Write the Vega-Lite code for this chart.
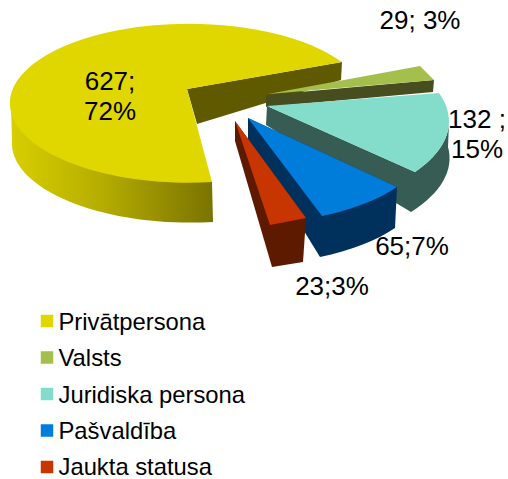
{"$schema":"https://vega.github.io/schema/vega-lite/v6.json","width":508,"height":479,"padding":0,"autosize":{"type":"none"},"background":"white","view":{"stroke":null},"config":{"font":"Liberation Sans"},
"data":{"values":[
{"name":"Privātpersona","value":627,"label":"627;\n72%"},
{"name":"Valsts","value":29,"label":"29; 3%"},
{"name":"Juridiska persona","value":132,"label":"132 ;\n15%"},
{"name":"Pašvaldība","value":65,"label":"65;7%"},
{"name":"Jaukta statusa","value":23,"label":"23;3%"}]},
"layer":[
{"transform":[{"filter":"datum.value == 627"}],
"mark":{"type":"point","filled":true,"size":4,"opacity":1,"strokeWidth":0,"shape":"M-243 -134.5 L-42 -57.5 L-41 -17.5 A179 79.5 0 0 1 -242 -99.5 Z","fill":{"x1":0,"y1":0,"x2":1,"y2":0,"gradient":"linear","stops":[{"offset":0,"color":"#d8cf00"},{"offset":0.45,"color":"#b5ad00"},{"offset":1,"color":"#7a7300"}]}}},
{"mark":{"type":"point","filled":true,"size":4,"opacity":1,"strokeWidth":0},
"encoding":{
"color":{"field":"name","type":"nominal","legend":null,"scale":{"domain":["Privātpersona","Valsts","Juridiska persona","Pašvaldība","Jaukta statusa"],"range":["#5f5a00","#474d1f","#365c54","#00305c","#5e1a00"]}},
"shape":{"field":"name","type":"nominal","legend":null,"scale":{"domain":["Privātpersona","Valsts","Juridiska persona","Pašvaldība","Jaukta statusa"],"range":[
"M-67 -150.5 L88 -177.5 L87 -159.5 L-57 -115.5 Z",
"M12 -144.5 L180 -159.5 L179 -147.5 L12 -132.5 Z",
"M13 -133.5 L161 -67.5 A210 93 0 0 0 195 -117.5 L194 -92.5 A210 93 0 0 1 157 -27.5 L12 -114.5 Z",
"M-6 -121.5 L143 -52.5 L141 -11.5 A180 80 0 0 1 66 17.5 L-6 -99.5 Z",
"M-19 -118.5 L52 -21.5 L49 22.5 L18 27.5 L-19 -98.5 Z"]}}}},
{"mark":{"type":"point","filled":true,"size":4,"opacity":1,"strokeWidth":0},
"encoding":{
"fill":{"field":"name","type":"nominal","legend":null,"scale":{"domain":["Privātpersona","Valsts","Juridiska persona","Pašvaldība","Jaukta statusa"],"range":["#e0d700","#a4bf4b","#84ddcb","#007ddb","#c73500"]}},
"shape":{"field":"name","type":"nominal","legend":null,"scale":{"domain":["Privātpersona","Valsts","Juridiska persona","Pašvaldība","Jaukta statusa"],"range":[
"M88 -177.5 A179 79.5 0 1 0 -42 -57.5 L-67 -150.5 Z",
"M14 -145.5 L166 -173.5 L180 -159.5 Z",
"M13 -133.5 L185 -146.5 A210 93 0 0 1 161 -67.5 Z",
"M-6 -121.5 L143 -52.5 A180 80 0 0 1 68 -23.5 Z",
"M-19 -118.5 L52 -21.5 L16 -14.5 Z"]}}}},
{"mark":{"type":"square","size":156,"opacity":1,"strokeWidth":0},
"encoding":{
"x":{"datum":0,"type":"quantitative","axis":null,"scale":{"domain":[0,508],"range":[47,555]}},
"y":{"field":"name","type":"nominal","axis":null,"sort":null,"scale":{"domain":["Privātpersona","Valsts","Juridiska persona","Pašvaldība","Jaukta statusa"],"type":"point","range":[321,467],"padding":0}},
"fill":{"field":"name","type":"nominal","legend":null}}},
{"mark":{"type":"text","font":"Liberation Sans","fontSize":23.8,"align":"left","baseline":"middle","color":"#000000"},
"encoding":{
"x":{"datum":0,"type":"quantitative","axis":null,"scale":{"domain":[0,508],"range":[58.5,566.5]}},
"y":{"field":"name","type":"nominal","axis":null,"sort":null,"scale":{"domain":["Privātpersona","Valsts","Juridiska persona","Pašvaldība","Jaukta statusa"],"type":"point","range":[323,468],"padding":0}},
"text":{"field":"name","type":"nominal"}}},
{"mark":{"type":"text","font":"Liberation Sans","fontSize":26,"lineBreak":"\n","lineHeight":30,"align":"center","baseline":"middle","color":"#000000"},
"encoding":{
"x":{"field":"value","type":"quantitative","axis":null,"scale":{"domain":[23,29,65,132,627],"range":[332,420,412,477,110],"zero":false,"nice":false}},
"y":{"field":"value","type":"quantitative","axis":null,"scale":{"domain":[23,29,65,132,627],"range":[287,21,247,120,82],"zero":false,"nice":false}},
"text":{"field":"label","type":"nominal"}}}
],
"resolve":{"scale":{"shape":"independent","x":"independent","y":"independent"},"axis":{"x":"independent","y":"independent"}}}
